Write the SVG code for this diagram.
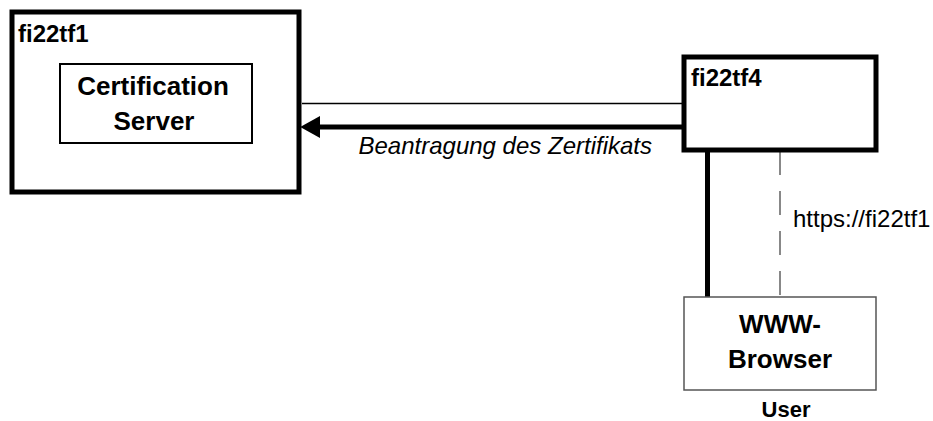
<svg xmlns="http://www.w3.org/2000/svg" width="933" height="421" viewBox="0 0 933 421">
  <defs>
    <style>
      text { font-family: "Liberation Sans", Arial, sans-serif; fill: #000; }
      .host { fill: #fff; stroke: #000; stroke-width: 5; }
      .comp { fill: #fff; stroke: #000; stroke-width: 2; }
      .client { fill: #fff; stroke: #555; stroke-width: 1.5; }
      .hostname { font-size: 24px; font-weight: bold; }
      .compname { font-size: 26px; font-weight: bold; text-anchor: middle; }
      .caption { font-size: 22px; font-weight: bold; text-anchor: middle; }
      .label { font-size: 24px; }
    </style>
    <marker id="arrowhead" markerUnits="userSpaceOnUse" markerWidth="20" markerHeight="22" refX="0" refY="10" orient="auto" viewBox="0 0 18 20">
      <path d="M0,0 L18,10 L0,20 Z" fill="#000"/>
    </marker>
  </defs>

  <!-- connectors -->
  <g id="connectors">
    <line x1="682" y1="103.5" x2="302" y2="103.5" stroke="#000" stroke-width="1.5"/>
    <line x1="684" y1="127" x2="320" y2="127" stroke="#000" stroke-width="5" marker-end="url(#arrowhead)"/>
    <line x1="707.5" y1="152" x2="707.5" y2="297" stroke="#000" stroke-width="5"/>
    <line x1="780" y1="151" x2="780" y2="296" stroke="#888" stroke-width="2" stroke-dasharray="24 16"/>
    <text class="label" x="652" y="154" text-anchor="end" font-style="italic">Beantragung des Zertifikats</text>
    <text class="label" x="793" y="227">https://fi22tf1</text>
  </g>

  <!-- host fi22tf1 with the certification server -->
  <g id="fi22tf1">
    <rect class="host" x="12" y="12" width="287" height="180"/>
    <text class="hostname" x="18" y="42">fi22tf1</text>
  </g>
  <g id="certification-server">
    <rect class="comp" x="60" y="64" width="192" height="79"/>
    <text class="compname" x="153" y="95">Certification</text>
    <text class="compname" x="154" y="130">Server</text>
  </g>

  <!-- host fi22tf4 -->
  <g id="fi22tf4">
    <rect class="host" x="684" y="57" width="192" height="93"/>
    <text class="hostname" x="691" y="86">fi22tf4</text>
  </g>

  <!-- browser on the user side -->
  <g id="www-browser">
    <rect class="client" x="684" y="297" width="192" height="93"/>
    <text class="compname" x="780" y="333">WWW-</text>
    <text class="compname" x="780" y="368">Browser</text>
    <text class="caption" x="786" y="417">User</text>
  </g>
</svg>
